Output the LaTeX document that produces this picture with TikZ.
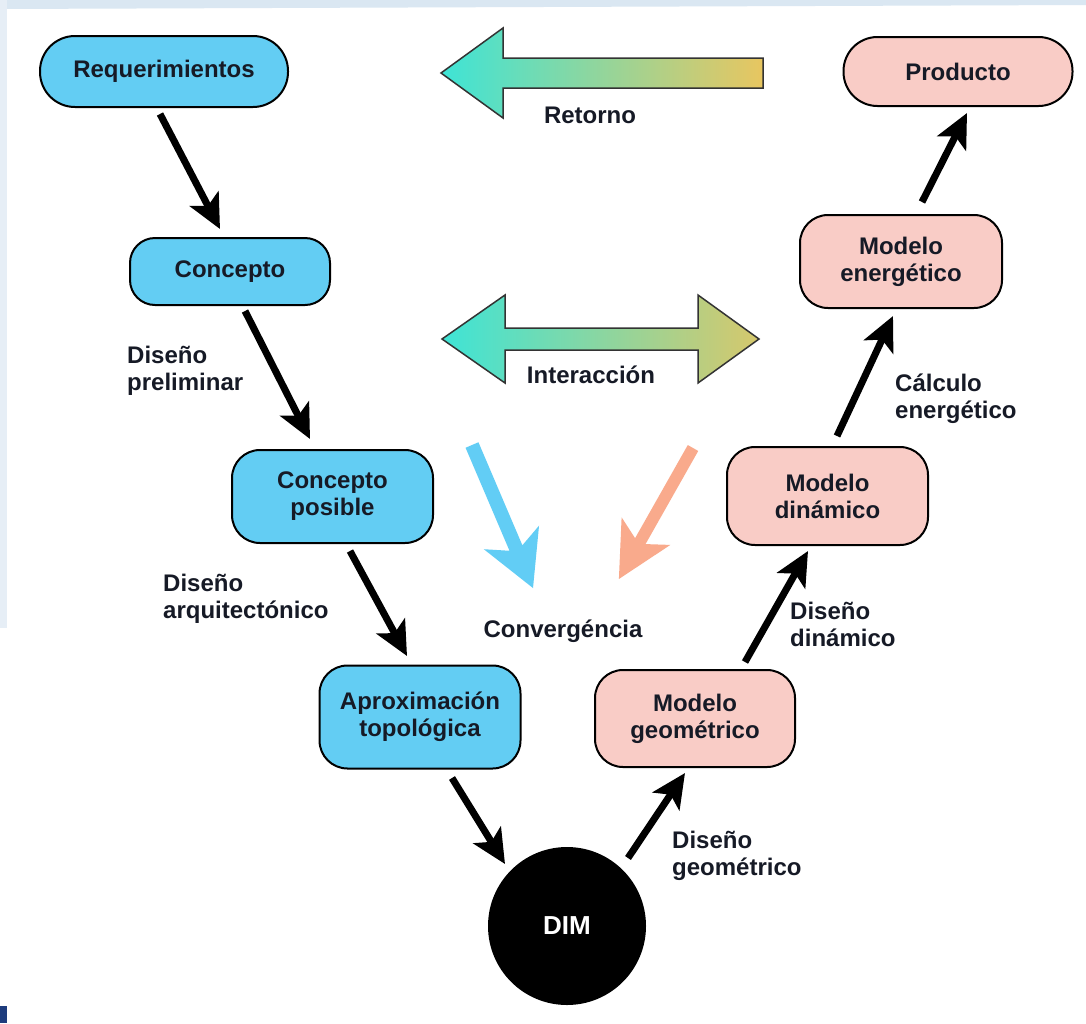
\documentclass[tikz,border=0pt]{standalone}
\usepackage{fontspec}
\setmainfont{Liberation Sans}
\usetikzlibrary{arrows.meta,calc}
\definecolor{boxblue}{RGB}{99,205,243}
\definecolor{boxpink}{RGB}{249,204,198}
\definecolor{txtdark}{RGB}{22,26,38}
\definecolor{arrcyan}{RGB}{62,228,214}
\definecolor{arrgold}{RGB}{232,198,96}
\definecolor{arrolive}{RGB}{214,200,108}
\definecolor{convblue}{RGB}{98,205,245}
\definecolor{convorange}{RGB}{249,170,140}
\definecolor{bgblue}{RGB}{218,231,242}
\definecolor{bgleft}{RGB}{230,238,246}
\definecolor{navybar}{RGB}{30,60,125}
\begin{document}
\begin{tikzpicture}[x=1pt,y=-1pt,
  every node/.style={font=\fontsize{24}{27}\selectfont\bfseries, text=txtdark},
  boxb/.style={draw=black, line width=2pt, fill=boxblue, align=center, inner sep=0pt},
  boxp/.style={draw=black, line width=2pt, fill=boxpink, align=center, inner sep=0pt},
  lbl/.style={align=left, anchor=north west, inner sep=0pt},
  mid/.style={anchor=base, inner sep=0pt},
  conn/.style={line width=7pt, -{Stealth[length=34pt,width=32pt,inset=8pt]}},
  fatarrow/.style={draw=black!80, line width=1.5pt, left color=arrcyan, right color=arrgold},
  fatarrowb/.style={draw=black!80, line width=1.5pt, left color=arrcyan, right color=arrolive}]
\useasboundingbox (0,0) rectangle (1086,1023);
% background
\fill[white] (0,0) rectangle (1086,1023);
\fill[bgblue] (0,0) -- (1086,0) -- (1086,5) -- (0,9) -- cycle;
\fill[bgleft] (0,0) rectangle (7,628);
\fill[navybar] (0,1006) rectangle (7,1023);

% big gradient arrows
\draw[fatarrow] (441,73) -- (503,28) -- (503,58) -- (763,58) -- (763,88) -- (503,88) -- (503,118) -- cycle;
\draw[fatarrowb] (442,339) -- (505,295) -- (505,328) -- (698,328) -- (698,295) -- (759,339)
  -- (698,383) -- (698,350) -- (505,350) -- (505,383) -- cycle;

% convergence arrows
\begin{scope}[shift={(472,445)}, rotate=-66.9]
  \fill[convblue] (0,-7) -- (112,-7) -- (100.5,-30) -- (155.5,0) -- (100.5,30) -- (112,7) -- (0,7) -- cycle;
\end{scope}
\begin{scope}[shift={(693,448)}, rotate=-119.5]
  \fill[convorange] (0,-6) -- (107,-6) -- (95.5,-28) -- (150.5,0) -- (95.5,28) -- (107,6) -- (0,6) -- cycle;
\end{scope}

% nodes
\node[boxb, rounded corners=35pt, minimum width=248pt, minimum height=71pt] (req) at (164,71.5) {Requerimientos};
\node[boxp, rounded corners=34pt, minimum width=229pt, minimum height=69pt] (prod) at (958,71.5) {Producto};
\node[boxb, rounded corners=25pt, minimum width=200pt, minimum height=67pt] (conc) at (230,271.5) {Concepto};
\node[boxb, rounded corners=28pt, minimum width=201pt, minimum height=93pt] (cp) at (332.5,496.5) {Concepto\\posible};
\node[boxb, rounded corners=28pt, minimum width=201pt, minimum height=103pt] (aprox) at (420,717) {Aproximación\\topológica};
\node[circle, fill=black, minimum size=158pt, inner sep=0pt, text=white, font=\fontsize{26}{30}\selectfont\bfseries] (dim) at (567,926) {DIM};
\node[boxp, rounded corners=28pt, minimum width=200pt, minimum height=97pt] (mg) at (695,718.5) {Modelo\\geométrico};
\node[boxp, rounded corners=28pt, minimum width=201pt, minimum height=98pt] (md) at (827.5,496) {Modelo\\dinámico};
\node[boxp, rounded corners=28pt, minimum width=202pt, minimum height=93pt] (me) at (901,261.5) {Modelo\\energético};

% labels
\node[mid] (ret) at (590,123) {Retorno};
\node[mid] (inter) at (591,383) {Interacción};
\node[mid] (conv) at (563,637) {Convergéncia};
\node[lbl] (lpre) at (127,346) {Diseño\\preliminar};
\node[lbl] (larq) at (163,574) {Diseño\\arquitectónico};
\node[lbl] (lcal) at (895,374) {Cálculo\\energético};
\node[lbl] (ldin) at (790,602) {Diseño\\dinámico};
\node[lbl] (lgeo) at (672,831) {Diseño\\geométrico};

% connectors
\draw[conn] ($(req.south)+(-4,6)$) -- ($(conc.north)+(-10,-8)$);
\draw[conn] ($(conc.south)+(15,5)$) -- ($(cp.north)+(-22.5,-10)$);
\draw[conn] ($(cp.south)+(17.5,7)$) -- ($(aprox.north)+(-13,-8.5)$);
\draw[conn] ($(aprox.south)+(32,8.5)$) -- ($(dim.135)+(-6,-6)$);
\draw[conn] ($(dim.45)+(5,-12)$) -- ($(mg.south)+(-10,5)$);
\draw[conn] ($(mg.north)+(50,-7)$) -- ($(md.south)+(-19.5,5)$);
\draw[conn] ($(md.north)+(9.5,-10)$) -- ($(me.south)+(-8,7)$);
\draw[conn] ($(me.north)+(21,-12)$) -- ($(prod.south)+(9,6)$);
\end{tikzpicture}
\end{document}
